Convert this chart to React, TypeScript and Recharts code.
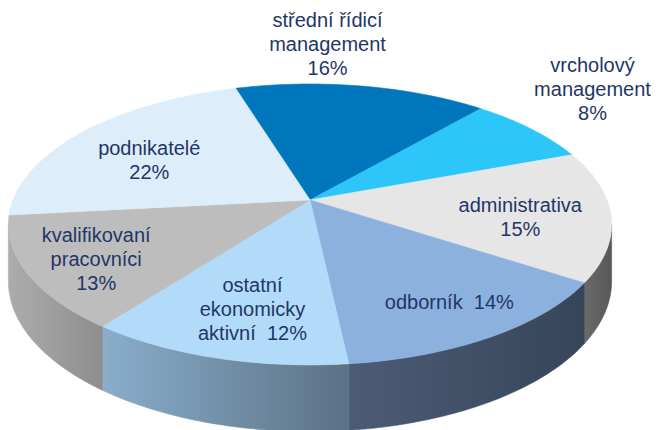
import { Pie, PieChart } from "recharts";

const CATEGORIES = [
  "střední řídicí\nmanagement",
  "vrcholový\nmanagement",
  "administrativa",
  "odborník",
  "ostatní\nekonomicky\naktivní",
  "kvalifikovaní\npracovníci",
  "podnikatelé",
];
const SHARES = [16, 8, 15, 14, 12, 13, 22];
// percentage written on the last name line instead of its own line
const PCT_INLINE = [false, false, false, true, true, false, false];

const TOP_COLORS = ["#0077bd", "#2cc6f9", "#e6e6e6", "#8db1de", "#b1dbf9", "#bdbdbd", "#ddeefa"];
const SIDE_COLORS = [
  ["#00507f", "#004a75"],
  ["#1e87a8", "#1a7a99"],
  ["#6a6a6a", "#575757"],
  ["#4c5c76", "#364558"],
  ["#8aaecb", "#5b7185"],
  ["#acacac", "#8e8e8e"],
  ["#9aa7b0", "#8c99a3"],
];
// nudges of the label block from the projected mid point of its slice
const LABEL_SHIFT = [
  [-18, -78],
  [134, -63],
  [16, 7],
  [28, 18],
  [0, 13],
  [-36, 13],
  [-9, 6],
];

const data = CATEGORIES.map((name, i) => ({ name, value: SHARES[i] }));

const TILT = 0.4586;
const PERSP = 5.74;
const DEPTH = 55;
const SILHOUETTE = (Math.asin(1 / PERSP) * 180) / Math.PI;
const textColor = "#1f3668";

function proj(cx: number, cy: number, R: number, deg: number, r: number, z: number) {
  const rad = (deg * Math.PI) / 180;
  const s = Math.sin(rad);
  const c = Math.cos(rad);
  const k = PERSP / (PERSP + r * s);
  return [cx + R * r * c * k, cy - R * TILT * r * s * k + z * k];
}

function arc(cx: number, cy: number, R: number, a: number, b: number, z: number) {
  const n = Math.max(2, Math.ceil(Math.abs(b - a)) + 1);
  const pts: number[][] = [];
  for (let i = 0; i < n; i++) {
    pts.push(proj(cx, cy, R, a + ((b - a) * i) / (n - 1), 1, z));
  }
  return pts;
}

const toPath = (pts: number[][]) => pts.map((p, i) => `${i ? "L" : "M"}${p[0].toFixed(2)},${p[1].toFixed(2)}`).join("") + "Z";

function renderSlice(props: any) {
  const { cx, cy, outerRadius: R, startAngle, endAngle, index } = props;
  const lo = Math.min(startAngle, endAngle);
  const hi = Math.max(startAngle, endAngle);
  const walls: number[][] = [];
  for (const off of [-360, 0, 360]) {
    const a = Math.max(lo, -180 + SILHOUETTE + off);
    const b = Math.min(hi, -SILHOUETTE + off);
    if (b > a) walls.push([a, b]);
  }
  const top = [[cx, cy], ...arc(cx, cy, R, startAngle, endAngle, 0)];
  return (
    <g>
      {walls.map(([a, b], j) => {
        const upper = arc(cx, cy, R, a, b, 0);
        const lower = arc(cx, cy, R, b, a, DEPTH);
        const id = `side-${index}-${j}`;
        const xs = upper.map((p) => p[0]);
        return (
          <g key={id}>
            <defs>
              <linearGradient id={id} gradientUnits="userSpaceOnUse" x1={Math.min(...xs)} x2={Math.max(...xs)} y1={0} y2={0}>
                <stop offset="0%" stopColor={SIDE_COLORS[index][0]} />
                <stop offset="100%" stopColor={SIDE_COLORS[index][1]} />
              </linearGradient>
            </defs>
            <path d={toPath([...upper, ...lower])} fill={`url(#${id})`} stroke={`url(#${id})`} strokeWidth={0.6} />
          </g>
        );
      })}
      <path d={toPath(top)} fill={TOP_COLORS[index]} stroke={TOP_COLORS[index]} strokeWidth={0.6} />
    </g>
  );
}

function renderLabel(props: any) {
  const { cx, cy, outerRadius: R, startAngle, endAngle, index } = props;
  const mid = (startAngle + endAngle) / 2;
  const [mx, my] = proj(cx, cy, R, mid, 0.65, 0);
  const x = mx + LABEL_SHIFT[index][0];
  const y = my + LABEL_SHIFT[index][1];
  const pct = `${SHARES[index]}%`;
  const lines = CATEGORIES[index].split("\n");
  if (PCT_INLINE[index]) lines[lines.length - 1] += `  ${pct}`;
  else lines.push(pct);
  const lh = 24;
  return (
    <g>
      {lines.map((t, i) => (
        <text
          key={i}
          x={x}
          y={y + (i - (lines.length - 1) / 2) * lh}
          textAnchor="middle"
          dominantBaseline="central"
          fontFamily="'Liberation Sans', Arial, sans-serif"
          fontSize={20}
          fill={textColor}
          style={{ whiteSpace: "pre" }}
        >
          {t}
        </text>
      ))}
    </g>
  );
}

export default function App() {
  return (
    <div style={{ position: "absolute", left: 0, top: 0, width: 659, height: 430, background: "#fff" }}>
      <PieChart width={659} height={430} margin={{ top: 0, right: 0, bottom: 0, left: 0 }}>
        <Pie
          data={data}
          dataKey="value"
          nameKey="name"
          cx={310}
          cy={200}
          innerRadius={0}
          outerRadius={297}
          startAngle={107}
          endAngle={-253}
          fill="none"
          stroke="none"
          label={renderSlice}
          labelLine={false}
          isAnimationActive={false}
        />
        <Pie
          data={data}
          dataKey="value"
          nameKey="name"
          cx={310}
          cy={200}
          innerRadius={0}
          outerRadius={297}
          startAngle={107}
          endAngle={-253}
          fill="none"
          stroke="none"
          label={renderLabel}
          labelLine={false}
          isAnimationActive={false}
        />
      </PieChart>
    </div>
  );
}
